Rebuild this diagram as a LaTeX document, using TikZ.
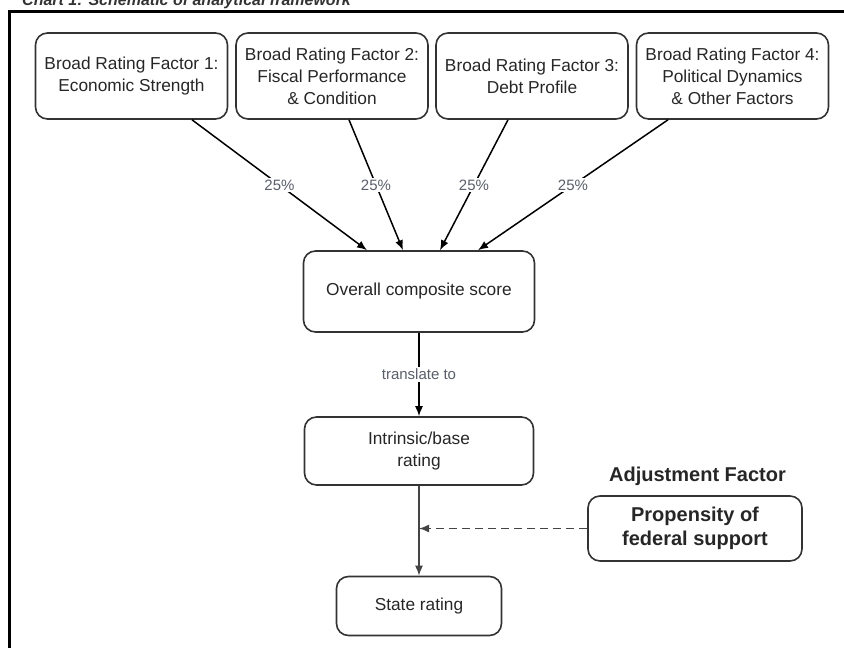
\documentclass[tikz,border=0pt]{standalone}
\usepackage{fontspec}
\setmainfont{Liberation Sans}
\usetikzlibrary{arrows.meta}
\definecolor{boxline}{HTML}{333333}
\definecolor{lblgray}{HTML}{5A5F6A}
\definecolor{flowgray}{HTML}{444444}

\begin{document}
\begin{tikzpicture}[x=1pt, y=-1pt, >={Latex[length=10pt,width=8pt]},
	box/.style={draw=boxline, line width=1.6pt, rounded corners=12pt, align=center, inner sep=0pt, text=black!85, font=\fontsize{17.3}{22}\selectfont},
	factor/.style={box, minimum width=192pt, minimum height=86pt},
	pct/.style={fill=white, text=lblgray, inner sep=2pt, font=\fontsize{15}{18}\selectfont},
	arr/.style={->, line width=1.5pt}]
	\useasboundingbox (0,0) rectangle (844,648);
	\node[anchor=base west, inner sep=0pt, text=black!80, font=\bfseries\itshape\fontsize{16}{19}\selectfont] (title) at (22,5.5) {Chart 1: Schematic of analytical framework};
	\draw[line width=3pt] (9,648) -- (9,11) -- (844,11);
	% the four broad rating factors
	\node[factor] (f1) at (131.5,76) {Broad Rating Factor 1:\\Economic Strength};
	\node[factor] (f2) at (332,76) {Broad Rating Factor 2:\\Fiscal Performance\\\& Condition};
	\node[factor] (f3) at (532,76) {Broad Rating Factor 3:\\Debt Profile};
	\node[factor] (f4) at (732.5,76) {Broad Rating Factor 4:\\Political Dynamics\\\& Other Factors};
	\node[box, minimum width=231pt, minimum height=81pt] (comp) at (419,291.5) {Overall composite score};
	\node[box, minimum width=229pt, minimum height=68pt] (base) at (419,451) {Intrinsic/base\\rating};
	\node[box, minimum width=165pt, minimum height=59pt] (state) at (419,606) {State rating};
	\node[box, minimum width=214pt, minimum height=65pt, font=\bfseries\fontsize{20}{23.7}\selectfont] (prop) at (695,528.5) {Propensity of\\federal support};
	\node[text=black!85, font=\bfseries\fontsize{20}{24}\selectfont] (adj) at (697.5,476) {Adjustment Factor};
	% weights
	\draw[arr] ([xshift=60.5pt]f1.south) -- node[pct] {25\%} ([xshift=-52pt]comp.north);
	\draw[arr] ([xshift=17pt]f2.south) -- node[pct] {25\%} ([xshift=-16pt]comp.north);
	\draw[arr] ([xshift=-24pt]f3.south) -- node[pct] {25\%} ([xshift=21pt]comp.north);
	\draw[arr] ([xshift=-64.5pt]f4.south) -- node[pct] {25\%} ([xshift=59pt]comp.north);
	\draw[arr] (comp) -- node[pct] {translate to} (base);
	\draw[arr, flowgray] (base) -- (state);
	\coordinate (join) at (base |- prop);
	\draw[arr, flowgray, dash pattern=on 8pt off 5pt] (prop) -- (join);
\end{tikzpicture}
\end{document}
